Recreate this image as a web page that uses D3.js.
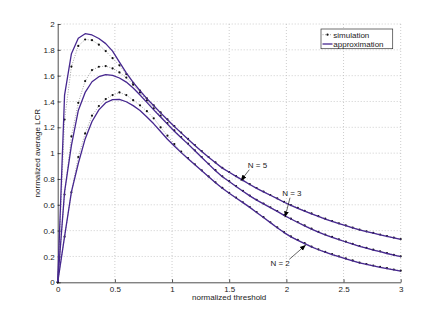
<!DOCTYPE html>
<html lang="en">
<head>
    <meta charset="UTF-8">
    <title>LCR</title>
    <style>
        body { margin: 0; background: #fff; }
        text { font-family: "Liberation Sans", Arial, sans-serif; }
    </style>
</head>
<body>
    <svg width="443" height="318"></svg>
    <script src="https://d3js.org/d3.v7.min.js"></script>
    <script>

        // threshold grid (same for every series)
        let thresholds = [0, 0.06, 0.12, 0.18, 0.24, 0.30, 0.36, 0.42, 0.48, 0.54,
            0.60, 0.66, 0.72, 0.78, 0.84, 0.90, 0.96, 1.02, 1.08, 1.14,
            1.20, 1.26, 1.32, 1.38, 1.44, 1.50, 1.56, 1.62, 1.68, 1.74,
            1.80, 1.86, 1.92, 1.98, 2.04, 2.10, 2.16, 2.22, 2.28, 2.34,
            2.40, 2.46, 2.52, 2.58, 2.64, 2.70, 2.76, 2.82, 2.88, 2.94, 3.00];

        let approxN5 = [0, 1.45, 1.77, 1.89, 1.925, 1.915, 1.888, 1.848, 1.79, 1.705,
            1.622, 1.548, 1.483, 1.422, 1.367, 1.312, 1.258, 1.207, 1.157, 1.108,
            1.06, 1.012, 0.968, 0.925, 0.884, 0.852, 0.82, 0.789, 0.757, 0.727,
            0.70, 0.674, 0.648, 0.62, 0.596, 0.573, 0.551, 0.53, 0.51, 0.49,
            0.472, 0.455, 0.438, 0.422, 0.406, 0.393, 0.38, 0.368, 0.356, 0.344, 0.333];
        let simN5 = [0, 1.26, 1.67, 1.83, 1.88, 1.875, 1.84, 1.79, 1.735, 1.68,
            1.612, 1.545, 1.485, 1.425, 1.37, 1.315, 1.262, 1.21, 1.16, 1.11,
            1.063, 1.015, 0.97, 0.928, 0.887, 0.854, 0.822, 0.791, 0.76, 0.73,
            0.703, 0.676, 0.65, 0.623, 0.598, 0.576, 0.554, 0.533, 0.512, 0.493,
            0.474, 0.457, 0.44, 0.424, 0.408, 0.395, 0.382, 0.37, 0.358, 0.346, 0.335];

        let approxN3 = [0, 0.70, 1.06, 1.33, 1.47, 1.553, 1.592, 1.608, 1.603, 1.582,
            1.55, 1.505, 1.45, 1.393, 1.335, 1.28, 1.225, 1.17, 1.12, 1.07,
            1.018, 0.967, 0.915, 0.864, 0.818, 0.78, 0.742, 0.705, 0.669, 0.636,
            0.607, 0.578, 0.549, 0.518, 0.49, 0.463, 0.437, 0.412, 0.388, 0.367,
            0.348, 0.33, 0.312, 0.295, 0.278, 0.264, 0.25, 0.237, 0.223, 0.21, 0.198];
        let simN3 = [0, 0.68, 1.13, 1.39, 1.558, 1.643, 1.669, 1.674, 1.656, 1.625,
            1.585, 1.53, 1.47, 1.408, 1.347, 1.29, 1.233, 1.177, 1.125, 1.074,
            1.022, 0.97, 0.918, 0.868, 0.821, 0.783, 0.745, 0.708, 0.672, 0.639,
            0.61, 0.581, 0.552, 0.521, 0.493, 0.466, 0.44, 0.415, 0.391, 0.37,
            0.351, 0.333, 0.315, 0.298, 0.281, 0.267, 0.253, 0.24, 0.226, 0.213, 0.201];

        let approxN2 = [0, 0.353, 0.70, 0.92, 1.11, 1.245, 1.335, 1.39, 1.415, 1.417,
            1.398, 1.368, 1.33, 1.28, 1.227, 1.168, 1.108, 1.055, 1.004, 0.957,
            0.91, 0.863, 0.817, 0.771, 0.728, 0.69, 0.653, 0.617, 0.58, 0.541,
            0.501, 0.462, 0.423, 0.385, 0.352, 0.325, 0.30, 0.274, 0.252, 0.233,
            0.215, 0.198, 0.182, 0.166, 0.15, 0.138, 0.127, 0.116, 0.106, 0.096, 0.087];
        let simN2 = [0, 0.353, 0.697, 0.97, 1.153, 1.29, 1.365, 1.419, 1.45, 1.47,
            1.45, 1.41, 1.37, 1.325, 1.27, 1.20, 1.135, 1.07, 1.012, 0.962,
            0.914, 0.867, 0.82, 0.774, 0.731, 0.693, 0.656, 0.62, 0.583, 0.544,
            0.504, 0.465, 0.426, 0.388, 0.355, 0.328, 0.303, 0.277, 0.255, 0.235,
            0.218, 0.201, 0.185, 0.169, 0.153, 0.141, 0.13, 0.119, 0.109, 0.099, 0.09];

        let xTicks = [0, 0.5, 1, 1.5, 2, 2.5, 3];
        let yTicks = [0, 0.2, 0.4, 0.6, 0.8, 1, 1.2, 1.4, 1.6, 1.8, 2];

        // labels: text position and arrow (from -> to), in data units
        let labels = [
            { text: "N = 5", tx: 1.748, ty: 0.908, x1: 1.676, y1: 0.872, x2: 1.601, y2: 0.786 },
            { text: "N = 3", tx: 2.048, ty: 0.693, x1: 2.032, y1: 0.655, x2: 1.988, y2: 0.503 },
            { text: "N = 2", tx: 1.945, ty: 0.147, x1: 2.026, y1: 0.178, x2: 2.17, y2: 0.289 }
        ];

        let lineColor = "#46278f";

        let svg = d3.select("svg"),
            margin = { top: 24, right: 42.3, bottom: 35.7, left: 57.7 },
            width = +svg.attr("width") - margin.left - margin.right,
            height = +svg.attr("height") - margin.top - margin.bottom,
            g = svg.append("g").attr("transform", "translate(" + margin.left + "," + margin.top + ")");

        svg.append("defs").append("marker")
            .attr("id", "arrow")
            .attr("viewBox", "0 0 10 10")
            .attr("refX", 10).attr("refY", 5)
            .attr("markerWidth", 6).attr("markerHeight", 6)
            .attr("markerUnits", "userSpaceOnUse")
            .attr("orient", "auto")
            .append("path")
            .attr("d", "M0,1L10,5L0,9z")
            .attr("fill", "#000");

        let x = d3.scaleLinear().domain([0, 3]).range([0, width]);
        let y = d3.scaleLinear().domain([0, 2]).range([height, 0]);

        // grid
        g.append("g").selectAll("line").data(xTicks.slice(1)).enter().append("line")
            .attr("x1", d => x(d)).attr("x2", d => x(d))
            .attr("y1", 0).attr("y2", height)
            .attr("stroke", "#b8b8b8").attr("stroke-width", 0.7)
            .attr("stroke-dasharray", "1,2");
        g.append("g").selectAll("line").data(yTicks.slice(1)).enter().append("line")
            .attr("x1", 0).attr("x2", width)
            .attr("y1", d => y(d)).attr("y2", d => y(d))
            .attr("stroke", "#b8b8b8").attr("stroke-width", 0.7)
            .attr("stroke-dasharray", "1,2");

        // axes
        let xAxis = g.append("g")
            .attr("transform", "translate(0," + height + ")")
            .call(d3.axisBottom(x).tickValues(xTicks).tickSizeInner(-3).tickSizeOuter(0).tickPadding(4).tickFormat(d3.format("")));
        let yAxis = g.append("g")
            .call(d3.axisLeft(y).tickValues(yTicks).tickSizeInner(-3).tickSizeOuter(0).tickPadding(3).tickFormat(d3.format("")));
        [xAxis, yAxis].forEach(a => {
            a.selectAll("path, line").attr("stroke", "#222").attr("stroke-width", 0.8);
            a.selectAll("text").attr("fill", "#222").style("font-size", "8px")
                .style("font-family", "'Liberation Sans', Arial, sans-serif");
        });

        g.append("text")
            .attr("x", width / 2).attr("y", height + 18)
            .attr("text-anchor", "middle")
            .style("font-size", "8px").attr("fill", "#222")
            .text("normalized threshold");
        g.append("text")
            .attr("transform", "rotate(-90)")
            .attr("x", -height / 2).attr("y", -18)
            .attr("text-anchor", "middle")
            .style("font-size", "8px").attr("fill", "#222")
            .text("normalized average LCR");

        let series = [
            { approx: approxN2, sim: simN2 },
            { approx: approxN3, sim: simN3 },
            { approx: approxN5, sim: simN5 }
        ];

        let line = d3.line()
            .x((d, i) => x(thresholds[i]))
            .y(d => y(d));

        series.forEach(s => {
            g.append("path")
                .datum(s.sim)
                .attr("fill", "none")
                .attr("stroke", "#666")
                .attr("stroke-width", 0.6)
                .attr("stroke-dasharray", "1,1.5")
                .attr("d", line);
            g.append("g").selectAll("circle").data(s.sim).enter().append("circle")
                .attr("cx", (d, i) => x(thresholds[i]))
                .attr("cy", d => y(d))
                .attr("r", 1.1)
                .attr("fill", "#111");
            g.append("path")
                .datum(s.approx)
                .attr("fill", "none")
                .attr("stroke", lineColor)
                .attr("stroke-width", 1.3)
                .attr("stroke-linejoin", "round")
                .attr("d", line);
        });

        // annotations
        labels.forEach(l => {
            g.append("line")
                .attr("x1", x(l.x1)).attr("y1", y(l.y1))
                .attr("x2", x(l.x2)).attr("y2", y(l.y2))
                .attr("stroke", "#000").attr("stroke-width", 0.6)
                .attr("marker-end", "url(#arrow)");
            g.append("text")
                .attr("x", x(l.tx)).attr("y", y(l.ty))
                .attr("dy", "0.35em")
                .attr("text-anchor", "middle")
                .style("font-size", "8px").attr("fill", "#222")
                .text(l.text);
        });

        // legend
        let lg = svg.append("g").attr("transform", "translate(321,29)");
        lg.append("rect")
            .attr("width", 71.7).attr("height", 19.7)
            .attr("fill", "#fff").attr("stroke", "#333").attr("stroke-width", 0.7);
        lg.append("line")
            .attr("x1", 1.5).attr("x2", 11.5).attr("y1", 5.7).attr("y2", 5.7)
            .attr("stroke", "#666").attr("stroke-width", 0.6).attr("stroke-dasharray", "1,1.5");
        lg.append("circle").attr("cx", 6.5).attr("cy", 5.7).attr("r", 1.1).attr("fill", "#111");
        lg.append("line")
            .attr("x1", 1.5).attr("x2", 11.5).attr("y1", 15).attr("y2", 15)
            .attr("stroke", lineColor).attr("stroke-width", 1.3);
        lg.append("text").attr("x", 12.3).attr("y", 5.7).attr("dy", "0.35em")
            .style("font-size", "8px").attr("fill", "#222").text("simulation");
        lg.append("text").attr("x", 12.3).attr("y", 15).attr("dy", "0.35em")
            .style("font-size", "8px").attr("fill", "#222").text("approximation");

    </script>
</body>
</html>
